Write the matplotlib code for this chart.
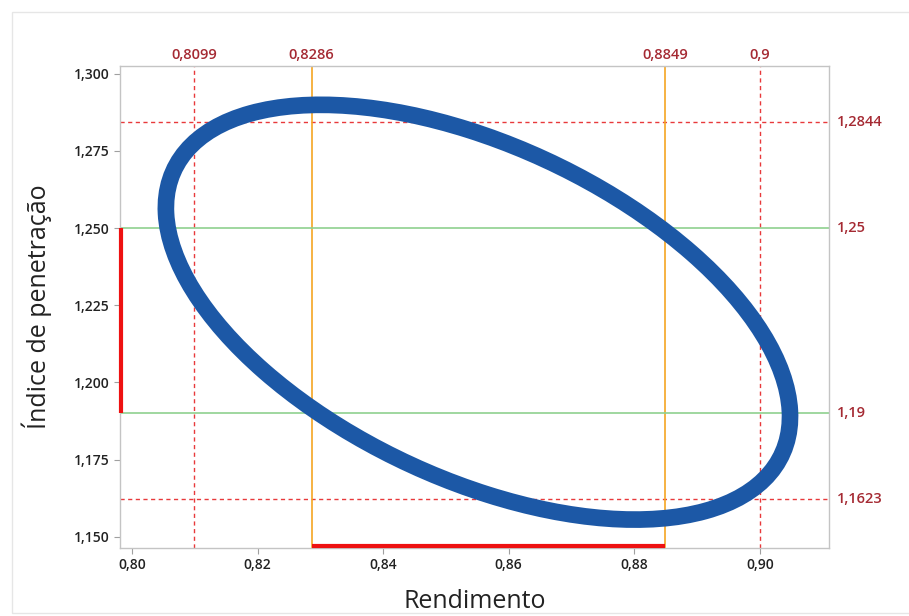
import numpy as np
import matplotlib.pyplot as plt
from matplotlib.patches import Ellipse, Rectangle
from matplotlib.ticker import FuncFormatter

# ellipse (data units)
ell_center = (0.8551, 1.22275)
ell_width = 0.1477
ell_height = 0.0781
ell_angle = -60.64

# reference lines
x_dashed = [0.8099, 0.9]
x_dashed_lbl = ['0,8099', '0,9']
x_orange = [0.8286, 0.8849]
x_orange_lbl = ['0,8286', '0,8849']
y_dashed = [1.2844, 1.1623]
y_dashed_lbl = ['1,2844', '1,1623']
y_green = [1.25, 1.19]
y_green_lbl = ['1,25', '1,19']

xlim = (0.7981, 0.911)
ylim = (1.1464, 1.3025)
xticks = [0.80, 0.82, 0.84, 0.86, 0.88, 0.90]
yticks = [1.150, 1.175, 1.200, 1.225, 1.250, 1.275, 1.300]

plt.rcParams['font.family'] = ['Open Sans', 'DejaVu Sans']

fig = plt.figure(figsize=(9.09, 6.16), dpi=100)
fig.patches.append(Rectangle((12 / 909, 0.005), 0.995, 1 - 12 / 616 - 0.005,
                             transform=fig.transFigure, fill=False,
                             edgecolor='#e6e6e6', linewidth=1))
ax = fig.add_axes([0.132, 0.1104, 0.780, 0.7826])

red = '#e8393b'
lblred = '#a52a33'

for x in x_dashed:
    ax.axvline(x, color=red, linestyle=(0, (3, 2.5)), linewidth=1, zorder=1)
for y in y_dashed:
    ax.axhline(y, color=red, linestyle=(0, (3, 2.5)), linewidth=1, zorder=1)
for x in x_orange:
    ax.axvline(x, color='#f5a623', linewidth=1.2, zorder=1)
for y in y_green:
    ax.axhline(y, color='#8fd18f', linewidth=1.2, zorder=1)

ax.add_patch(Ellipse(ell_center, ell_width, ell_height, angle=ell_angle,
                     fill=False, edgecolor='#1c58a6', linewidth=12, zorder=3))

# highlighted ranges on the axes
ax.plot([xlim[0] + 0.0002] * 2, y_green, color='#ee1111', linewidth=3,
        solid_capstyle='butt', zorder=4, clip_on=False)
ax.plot(x_orange, [ylim[0] + 0.0007] * 2, color='#ee1111', linewidth=3,
        solid_capstyle='butt', zorder=4, clip_on=False)

ax.set_xlim(*xlim)
ax.set_ylim(*ylim)
ax.set_xticks(xticks)
ax.set_yticks(yticks)
ax.xaxis.set_major_formatter(FuncFormatter(lambda v, p: f'{v:.2f}'.replace('.', ',')))
ax.yaxis.set_major_formatter(FuncFormatter(lambda v, p: f'{v:.3f}'.replace('.', ',')))
ax.tick_params(axis='both', colors='#a0a0a0', labelcolor='#222222',
               labelsize=10, length=4, width=0.8)
for lbl in ax.get_xticklabels() + ax.get_yticklabels():
    lbl.set_fontweight('semibold')
for s in ax.spines.values():
    s.set_color('#c4c4c4')
    s.set_linewidth(1)

for x, t in zip(x_dashed + x_orange, x_dashed_lbl + x_orange_lbl):
    ax.text(x, ylim[1] + 0.0012, t, ha='center', va='bottom', color=lblred,
            fontsize=10.5, fontweight='semibold', clip_on=False)
for y, t in zip(y_dashed + y_green, y_dashed_lbl + y_green_lbl):
    ax.text(xlim[1] + 0.0012, y, t, ha='left', va='center', color=lblred,
            fontsize=10.5, fontweight='semibold', clip_on=False)

ax.set_xlabel('Rendimento', fontsize=18, color='#222222', labelpad=12)
ax.set_ylabel('Índice de penetração', fontsize=18, color='#222222', labelpad=16)

fig.savefig('out.png', dpi=100)
